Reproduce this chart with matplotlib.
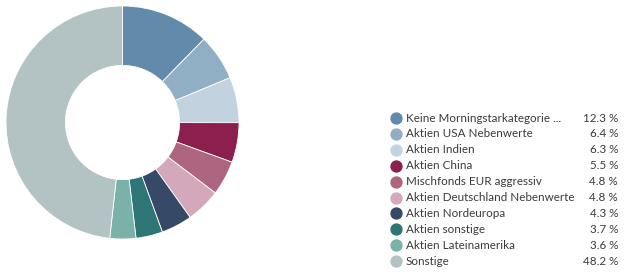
import matplotlib
matplotlib.use('Agg')
import matplotlib.pyplot as plt

labels = ['Keine Morningstarkategorie ...', 'Aktien USA Nebenwerte', 'Aktien Indien',
          'Aktien China', 'Mischfonds EUR aggressiv', 'Aktien Deutschland Nebenwerte',
          'Aktien Nordeuropa', 'Aktien sonstige', 'Aktien Lateinamerika', 'Sonstige']
werte = [12.3, 6.4, 6.3, 5.5, 4.8, 4.8, 4.3, 3.7, 3.6, 48.2]
farben = ['#628aab', '#91afc4', '#c2d3df', '#8c1f4e', '#ad6580', '#d3a8bb',
          '#364a68', '#2e7675', '#7ab2aa', '#b3c2c2']

plt.rcParams['font.family'] = ['Lato', 'DejaVu Sans']

fig = plt.figure(figsize=(6.24, 2.72), dpi=100)

# Donut
ax = fig.add_axes([6/624, 33/272, 233/624, 233/272])
ax.pie(werte, colors=farben, startangle=90, counterclock=False, radius=1,
       wedgeprops=dict(width=0.51, edgecolor='white', linewidth=0.6))
ax.set_xlim(-1, 1)
ax.set_ylim(-1, 1)
ax.set_aspect('equal')
ax.axis('off')

# Legende
lg = fig.add_axes([0, 0, 1, 1])
lg.set_xlim(0, 624)
lg.set_ylim(272, 0)
lg.axis('off')
y0 = 118
dy = 15.9
for i, (lab, w, c) in enumerate(zip(labels, werte, farben)):
    y = y0 + i * dy
    lg.scatter([396], [y], s=62, color=c, zorder=3)
    lg.text(406, y, lab, fontsize=8.4, color='#3a3a3a', va='center', ha='left')
    lg.text(618, y, f'{w:.1f} %', fontsize=8.4, color='#3a3a3a', va='center', ha='right')

fig.savefig('out.png', dpi=100)
